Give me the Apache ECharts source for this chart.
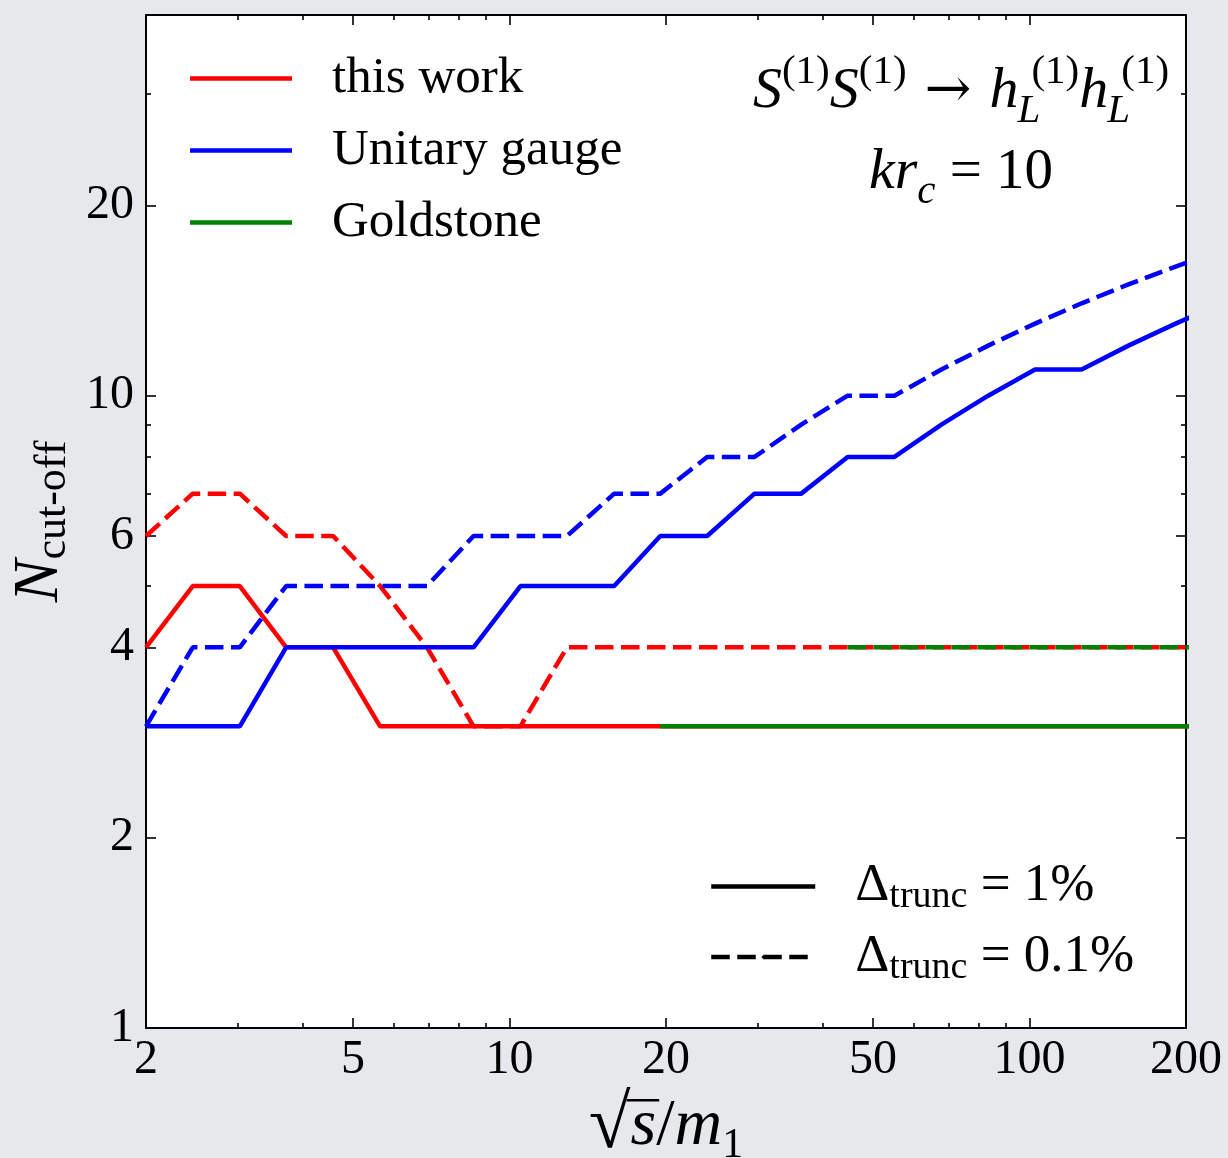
<!DOCTYPE html>
<html>
<head>
<meta charset="utf-8">
<script src="https://cdn.jsdelivr.net/npm/echarts@6/dist/echarts.min.js"></script>
<style>
html,body{margin:0;padding:0;background:#e6e8eb;}
#chart{width:1228px;height:1158px;}
</style>
</head>
<body>
<div id="chart"></div>
<script>
// ---- data ----
const xValues = [2, 2.46, 3.03, 3.72, 4.58, 5.64, 6.94, 8.53, 10.5, 12.9, 15.9, 19.5, 24.0, 29.6, 36.4, 44.7, 55.0, 67.7, 83.3, 102.5, 126, 155, 191, 235];
const thisWork1  = [4, 5, 5, 4, 4, 3, 3, 3, 3, 3, 3, 3, 3, 3, 3, 3, 3, 3, 3, 3, 3, 3, 3, 3];
const thisWork01 = [6, 7, 7, 6, 6, 5, 4, 3, 3, 4, 4, 4, 4, 4, 4, 4, 4, 4, 4, 4, 4, 4, 4, 4];
const unitary1   = [3, 3, 3, 4, 4, 4, 4, 4, 5, 5, 5, 6, 6, 7, 7, 8, 8, 9, 10, 11, 11, 12, 13, 14];
const unitary01  = [3, 4, 4, 5, 5, 5, 5, 6, 6, 6, 7, 7, 8, 8, 9, 10, 10, 11, 12, 13, 14, 15, 16, 17];
const goldstone1  = [null, null, null, null, null, null, null, null, null, null, null, 3, 3, 3, 3, 3, 3, 3, 3, 3, 3, 3, 3, 3];
const goldstone01 = [null, null, null, null, null, null, null, null, null, null, null, null, null, null, null, 4, 4, 4, 4, 4, 4, 4, 4, 4];

const xMajorTicks = [2, 5, 10, 20, 50, 100, 200];
const xMinorTicks = [3, 4, 6, 7, 8, 9, 30, 40, 60, 70, 80, 90];
const yMajorTicks = [1, 2, 4, 6, 10, 20];
const yMinorTicks = [3, 5, 7, 8, 9, 30, 40];

const seriesNames = ['this work', 'Unitary gauge', 'Goldstone'];
const truncNames = ['Δtrunc = 1%', 'Δtrunc = 0.1%'];

// ---- styling ----
const FONT = "'Liberation Serif', 'Times New Roman', serif";
const RED = '#ff0000', BLUE = '#0000ff', GREEN = '#008000';
const DASH = [18.5, 7.5];
const LW = 4.5;

// x-axis title metrics (used to place the radical's bar over "s")
const XT = { main: 66, rad: 76, sub: 42, lh: 80, gap: 58 };

function pairs(ys) {
  return xValues.map((x, i) => [x, ys[i]]).filter(p => p[1] != null);
}

function mkAxis(dim, position, ticks, len, showLabel, showLine) {
  return {
    type: 'log',
    logBase: 10,
    position: position,
    min: dim === 'x' ? 2 : 1,
    max: dim === 'x' ? 200 : 40,
    axisLine: { show: showLine, onZero: false, lineStyle: { color: '#000', width: 2 } },
    axisTick: { show: true, inside: true, length: len, customValues: ticks, lineStyle: { color: '#000', width: 1.6 } },
    axisLabel: {
      show: showLabel,
      customValues: ticks,
      hideOverlap: false,
      fontFamily: FONT,
      fontSize: 48,
      color: '#000',
      margin: dim === 'x' ? 8 : 12,
      formatter: v => String(Math.round(v * 100) / 100)
    },
    splitLine: { show: false },
    minorTick: { show: false },
    minorSplitLine: { show: false }
  };
}

const xAxes = [
  mkAxis('x', 'bottom', xMajorTicks, 10, true, true),
  mkAxis('x', 'bottom', xMinorTicks, 5, false, false),
  mkAxis('x', 'top', xMajorTicks, 10, false, true),
  mkAxis('x', 'top', xMinorTicks, 5, false, false)
];
Object.assign(xAxes[0], {
  name: '{rad|√}{i|s}{r|/}{i|m}{sub|1}',
  nameLocation: 'middle',
  nameGap: XT.gap,
  nameTextStyle: {
    fontFamily: FONT, color: '#000', fontSize: XT.main,
    rich: {
      rad: { fontFamily: FONT, fontSize: XT.rad, lineHeight: XT.lh, color: '#000' },
      r: { fontFamily: FONT, fontSize: XT.main, lineHeight: XT.lh, color: '#000' },
      i: { fontFamily: FONT, fontSize: XT.main, fontStyle: 'italic', lineHeight: XT.lh, color: '#000' },
      sub: { fontFamily: FONT, fontSize: XT.sub, lineHeight: 50, verticalAlign: 'bottom', color: '#000' }
    }
  }
});

const yAxes = [
  mkAxis('y', 'left', yMajorTicks, 10, true, true),
  mkAxis('y', 'left', yMinorTicks, 5, false, false),
  mkAxis('y', 'right', yMajorTicks, 10, false, true),
  mkAxis('y', 'right', yMinorTicks, 5, false, false)
];
Object.assign(yAxes[0], {
  name: '{i|N}{sub|cut-off}',
  nameLocation: 'middle',
  nameRotate: 90,
  nameGap: 68,
  nameTextStyle: {
    fontFamily: FONT, color: '#000', fontSize: 64,
    rich: {
      i: { fontFamily: FONT, fontSize: 64, fontStyle: 'italic', lineHeight: 70, color: '#000' },
      sub: { fontFamily: FONT, fontSize: 44, lineHeight: 48, verticalAlign: 'bottom', color: '#000' }
    }
  }
});

function lineSeries(name, ys, color, dashed) {
  return {
    type: 'line',
    name: name,
    xAxisIndex: 0,
    yAxisIndex: 0,
    data: pairs(ys),
    symbol: 'none',
    showSymbol: false,
    clip: true,
    silent: true,
    lineStyle: { color: color, width: LW, type: dashed ? DASH : 'solid', cap: 'butt' },
    itemStyle: { color: color },
    emphasis: { disabled: true }
  };
}

// overbar of the radical in the x-axis title, placed from text widths
function radicalBar() {
  let wRad = 0.55 * XT.rad, wS = 0.39 * XT.main, wSl = 0.28 * XT.main, wM = 0.72 * XT.main, wSub = 0.5 * XT.sub;
  try {
    const c = document.createElement('canvas').getContext('2d');
    const w = (t, size, italic) => { c.font = (italic ? 'italic ' : '') + size + 'px ' + FONT; return c.measureText(t).width; };
    wRad = w('√', XT.rad, false); wS = w('s', XT.main, true); wSl = w('/', XT.main, false);
    wM = w('m', XT.main, true); wSub = w('1', XT.sub, false);
  } catch (e) { /* keep estimates */ }
  const total = wRad + wS + wSl + wM + wSub;
  const x0 = 146 + 1040 / 2 - total / 2;
  const yTop = 1028 + XT.gap + 13;
  return {
    type: 'rect', silent: true, z: 100,
    shape: { x: x0 + wRad - 4, y: yTop, width: wS + 7, height: 2.5 },
    style: { fill: '#000' }
  };
}

const option = {
  animation: false,
  backgroundColor: '#e6e8eb',
  grid: {
    left: 146, right: 42, top: 15, bottom: 130,
    show: true, backgroundColor: '#ffffff', borderWidth: 0,
    containLabel: false, outerBoundsMode: 'none'
  },
  xAxis: xAxes,
  yAxis: yAxes,
  legend: [
    {
      orient: 'vertical', left: 190, top: 53, padding: 0,
      itemGap: 21, itemWidth: 102, itemHeight: 4.5, icon: 'rect',
      selectedMode: false,
      data: seriesNames,
      textStyle: { fontFamily: FONT, fontSize: 51, lineHeight: 50, color: '#000', padding: [0, 0, 0, 35] }
    },
    {
      orient: 'vertical', left: 709, top: 860, padding: 0,
      itemGap: 14, itemWidth: 104, itemHeight: 4,
      selectedMode: false,
      data: [
        { name: truncNames[0], lineStyle: { type: 'solid', width: LW, color: '#000' } },
        { name: truncNames[1], lineStyle: { type: DASH, width: LW, color: '#000' } }
      ],
      formatter: function (name) {
        const rest = name.replace('Δtrunc', '');
        return '{d|Δ}{sub|trunc}{d|' + rest + '}';
      },
      textStyle: {
        fontFamily: FONT, fontSize: 52, color: '#000', padding: [0, 0, 0, 35],
        rich: {
          d: { fontFamily: FONT, fontSize: 53, lineHeight: 60, color: '#000' },
          sub: { fontFamily: FONT, fontSize: 38, lineHeight: 38, verticalAlign: 'bottom', color: '#000' }
        }
      }
    }
  ],
  graphic: [
    {
      type: 'text',
      silent: true,
      style: {
        x: 961, y: 92, align: 'center', verticalAlign: 'middle',
        text: '{i|S}{sup|(1)}{i|S}{sup|(1)}{sp| }{ar|→}{sp| }{i|h}{gap| }{subL|L}{sup|(1)}{i|h}{gap| }{subL|L}{sup|(1)}',
        rich: {
          i: { fontFamily: FONT, fontSize: 58, fontStyle: 'italic', lineHeight: 80, fill: '#000' },
          ar: { fontFamily: "'DejaVu Serif', serif", fontSize: 56, lineHeight: 80, fill: '#000' },
          sp: { fontFamily: FONT, fontSize: 20, lineHeight: 80, width: 18 },
          gap: { fontFamily: FONT, fontSize: 10, lineHeight: 80, width: 8 },
          sup: { fontFamily: FONT, fontSize: 41, lineHeight: 48, verticalAlign: 'top', fill: '#000' },
          subL: { fontFamily: FONT, fontSize: 41, fontStyle: 'italic', lineHeight: 35, verticalAlign: 'bottom', align: 'left', width: 5, fill: '#000' }
        }
      }
    },
    {
      type: 'text',
      silent: true,
      style: {
        x: 961, y: 173, align: 'center', verticalAlign: 'middle',
        text: '{i|kr}{sub|c}{r| = 10}',
        rich: {
          i: { fontFamily: FONT, fontSize: 58, fontStyle: 'italic', lineHeight: 80, fill: '#000' },
          r: { fontFamily: FONT, fontSize: 57, lineHeight: 80, fill: '#000' },
          sub: { fontFamily: FONT, fontSize: 41, fontStyle: 'italic', lineHeight: 56, verticalAlign: 'bottom', fill: '#000' }
        }
      }
    },
    radicalBar()
  ],
  series: [
    lineSeries(seriesNames[0], thisWork1, RED, false),
    lineSeries(seriesNames[0], thisWork01, RED, true),
    lineSeries(seriesNames[1], unitary1, BLUE, false),
    lineSeries(seriesNames[1], unitary01, BLUE, true),
    lineSeries(seriesNames[2], goldstone1, GREEN, false),
    lineSeries(seriesNames[2], goldstone01, GREEN, true),
    lineSeries(truncNames[0], [], '#000', false),
    lineSeries(truncNames[1], [], '#000', true)
  ]
};

const chart = echarts.init(document.getElementById('chart'), null, { renderer: 'canvas' });
chart.setOption(option);
</script>
</body>
</html>
